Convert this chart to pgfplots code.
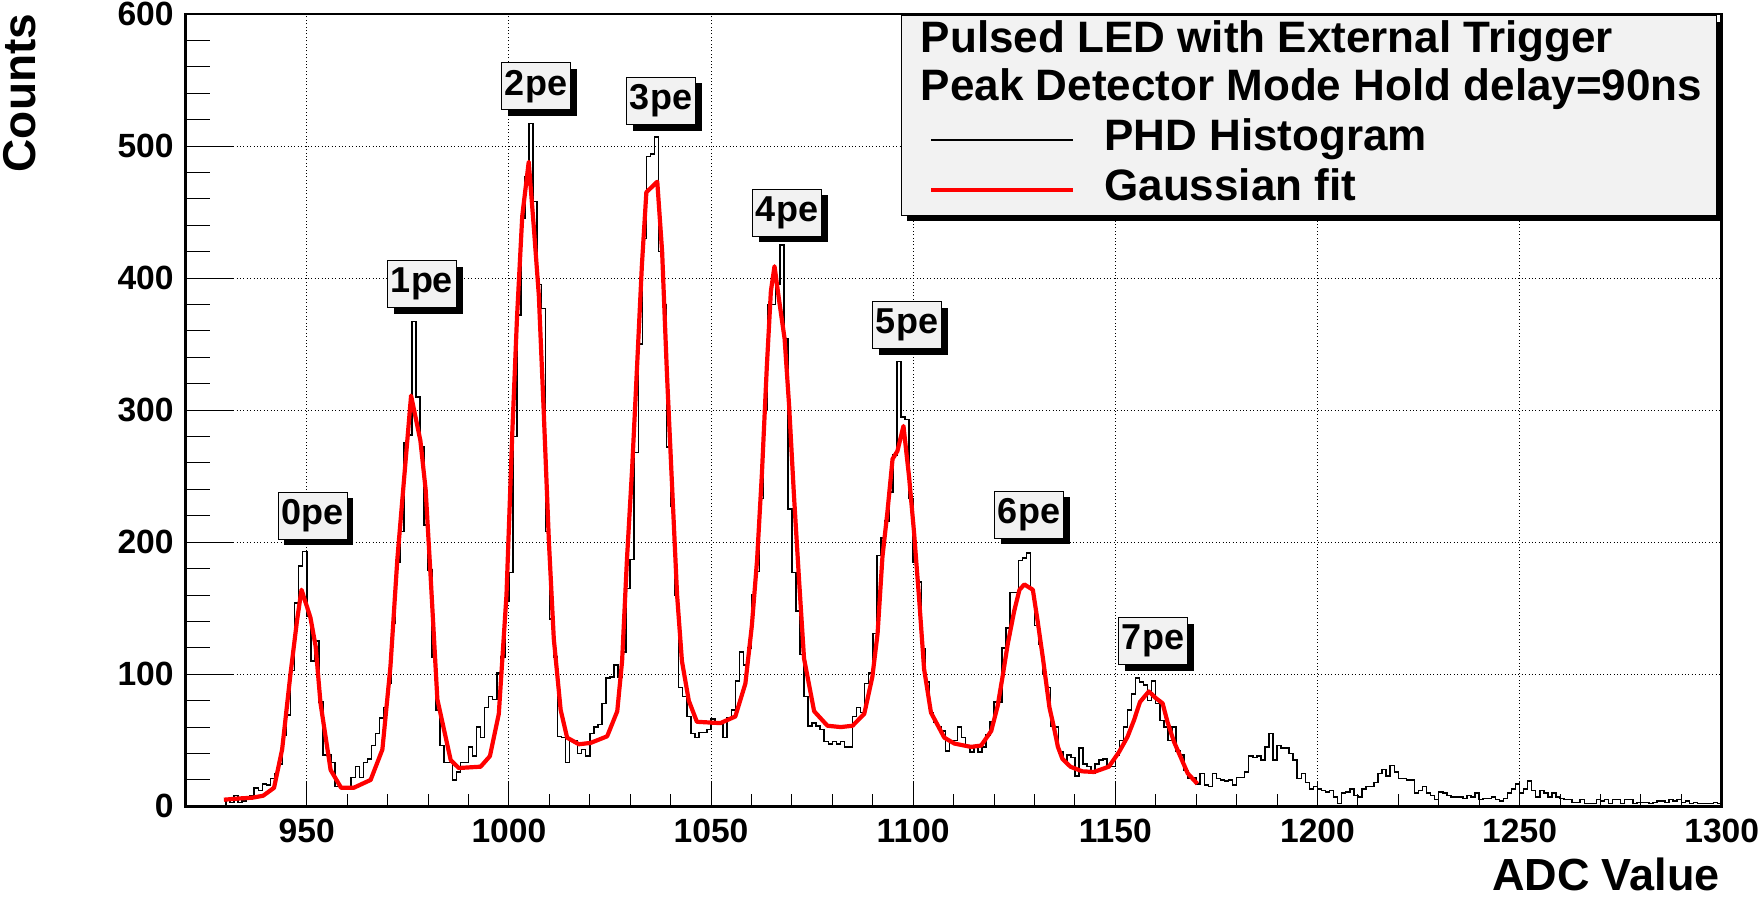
\documentclass[border=0pt]{standalone}
\usepackage{fontspec}
\setmainfont{Liberation Sans}
\usepackage{pgfplots}
\pgfplotsset{compat=1.18}
\usepackage{pgfplotstable}
\definecolor{boxgray}{RGB}{242,242,242}

\pgfplotstableread{
x y
929 0
930 5
931 3
932 8
933 3
934 4
935 5
936 8
937 14
938 12
939 17
940 16
941 21
942 25
943 32
944 54
945 69
946 103
947 154
948 182
949 193
950 144
951 110
952 125
953 79
954 39
955 39
956 33
957 15
958 15
959 14
960 14
961 22
962 30
963 22
964 33
965 36
966 46
967 55
968 67
969 75
970 93
971 139
972 185
973 208
974 275
975 281
976 367
977 310
978 272
979 213
980 179
981 113
982 73
983 46
984 33
985 33
986 20
987 26
988 33
989 33
990 45
991 38
992 60
993 52
994 75
995 83
996 81
997 101
998 113
999 155
1000 177
1001 280
1002 372
1003 445
1004 477
1005 517
1006 458
1007 395
1008 377
1009 208
1010 142
1011 113
1012 53
1013 52
1014 33
1015 50
1016 50
1017 40
1018 43
1019 38
1020 55
1021 60
1022 62
1023 78
1024 97
1025 98
1026 107
1027 98
1028 117
1029 165
1030 187
1031 268
1032 350
1033 430
1034 492
1035 494
1036 507
1037 420
1038 380
1039 272
1040 227
1041 160
1042 90
1043 83
1044 68
1045 55
1046 52
1047 56
1048 56
1049 58
1050 66
1051 63
1052 63
1053 52
1054 67
1055 73
1056 95
1057 117
1058 107
1059 120
1060 160
1061 178
1062 233
1063 300
1064 380
1065 380
1066 395
1067 425
1068 354
1069 225
1070 177
1071 148
1072 115
1073 83
1074 61
1075 63
1076 61
1077 58
1078 49
1079 47
1080 49
1081 47
1082 49
1083 45
1084 45
1085 68
1086 75
1087 71
1088 93
1089 101
1090 131
1091 190
1092 203
1093 216
1094 238
1095 266
1096 337
1097 295
1098 293
1099 233
1100 185
1101 170
1102 119
1103 94
1104 71
1105 64
1106 60
1107 57
1108 42
1109 50
1110 50
1111 60
1112 52
1113 45
1114 41
1115 45
1116 41
1117 45
1118 54
1119 64
1120 79
1121 79
1122 120
1123 135
1124 162
1125 162
1126 186
1127 188
1128 192
1129 164
1130 137
1131 123
1132 100
1133 90
1134 61
1135 60
1136 41
1137 35
1138 39
1139 37
1140 23
1141 44
1142 32
1143 30
1144 25
1145 32
1146 35
1147 36
1148 30
1149 30
1150 39
1151 50
1152 60
1153 73
1154 85
1155 97
1156 94
1157 92
1158 80
1159 95
1160 78
1161 65
1162 60
1163 50
1164 60
1165 42
1166 39
1167 27
1168 21
1169 22
1170 17
1171 25
1172 16
1173 15
1174 25
1175 21
1176 20
1177 19
1178 20
1179 16
1180 22
1181 22
1182 26
1183 38
1184 37
1185 38
1186 35
1187 45
1188 55
1189 35
1190 46
1191 44
1192 44
1193 40
1194 35
1195 21
1196 25
1197 18
1198 13
1199 15
1200 13
1201 12
1202 11
1203 12
1204 7
1205 2
1206 10
1207 11
1208 13
1209 8
1210 7
1211 13
1212 15
1213 15
1214 18
1215 25
1216 28
1217 23
1218 31
1219 26
1220 21
1221 21
1222 20
1223 20
1224 10
1225 12
1226 15
1227 10
1228 8
1229 5
1230 11
1231 10
1232 8
1233 7
1234 7
1235 7
1236 6
1237 8
1238 7
1239 10
1240 5
1241 6
1242 6
1243 7
1244 5
1245 4
1246 6
1247 10
1248 13
1249 17
1250 10
1251 13
1252 19
1253 12
1254 7
1255 12
1256 10
1257 7
1258 10
1259 7
1260 6
1261 5
1262 5
1263 3
1264 3
1265 5
1266 2
1267 2
1268 2
1269 5
1270 4
1271 5
1272 2
1273 5
1274 5
1275 2
1276 5
1277 5
1278 2
1279 3
1280 3
1281 3
1282 2
1283 3
1284 4
1285 4
1286 3
1287 5
1288 4
1289 5
1290 3
1291 4
1292 2
1293 3
1294 2
1295 2
1296 2
1297 2
1298 3
1299 2
1300 2
}\histdata

\pgfplotstableread{
x y
929.5 5
933.6 6
936.5 6.5
939.2 8
941.9 14
943.9 43
946 101
947.6 141
948.7 164
950.9 143
952.2 121
953.4 78
955.9 27.5
958.5 14
961.6 14
965.8 20
968.7 43
970.7 106
972.4 187
974.4 260
975.8 311
978.1 277
979.4 240
980.6 176
982.3 81
985.6 35
987.6 29
993 30
995.3 38
997.5 70
999.4 160
1000.8 280
1002 370
1003.3 447
1004.9 488
1006.2 437
1007.4 387
1008.6 300
1009.9 200
1011.1 127
1012.8 73
1014.4 52
1017.3 47
1020.2 48
1024.3 53
1026.8 72
1028 110
1029.2 187
1030.5 257
1031.7 333
1032.9 410
1034 465
1036.7 473
1037.9 420
1039.1 327
1040.4 240
1041.6 160
1042.8 110
1044.5 80
1046.5 64
1052.3 63
1056 68
1058.5 93
1060.1 137
1061.4 187
1062.6 253
1063.8 333
1064.8 390
1065.7 409
1066.8 384
1068.2 354
1069.3 304
1070.5 236
1071.8 170
1073 112
1075.5 72
1078.8 61
1082.1 60
1085 61
1087.9 70
1089.9 98
1091.2 131
1092.4 189
1093.6 222
1094.9 263
1096.1 269
1097.6 288
1099 249
1100.2 208
1101.5 156
1102.7 104
1104.4 71
1107.7 52
1110.2 47.5
1114.3 45
1116.8 46
1119.3 57
1120.9 76
1122.1 98
1123.4 123
1125 148
1126.3 164
1127.5 168
1129.6 164
1130.8 140
1132.1 112
1133.7 75
1134.8 60
1135.8 45
1136.9 36
1138.9 30
1141.8 26.5
1144.7 26
1148.4 30
1150.9 41
1153 52.5
1154.6 65
1156.1 79
1158.3 87
1160 82
1161.7 78
1162.9 64
1164.5 49
1166.2 37
1167.9 25
1170.3 17
}\fitdata

\begin{document}
\begin{tikzpicture}
\begin{axis}[
  at={(0,0)}, anchor=south west,
  scale only axis, width=768.1pt, height=396.15pt,
  xmin=920, xmax=1300, ymin=0, ymax=600,
  xtick={950,1000,...,1300}, ytick={0,100,...,600},
  minor x tick num=4, minor y tick num=4,
  tick align=inside, xtick pos=bottom, ytick pos=left,
  grid=major,
  major grid style={black, line width=0.45pt, dash pattern=on 0.5pt off 1.2pt},
  axis line style={line width=1.4pt},
  tick style={black, line width=0.5pt},
  xtick style={/pgfplots/major tick length=12.5pt, /pgfplots/minor tick length=6pt},
  ytick style={/pgfplots/major tick length=23.5pt, /pgfplots/minor tick length=12pt},
  ticklabel style={font=\bfseries\fontsize{16.8}{16.8}\selectfont},
  /pgf/number format/assume math mode=true,
  /pgf/number format/1000 sep={},
  xticklabel style={inner sep=0pt, yshift=-6pt},
  yticklabel style={inner sep=0pt, xshift=-5.75pt},
]
\addplot[const plot, black, line width=0.75pt] table[x=x, y=y] {\histdata};
\addplot[red, line width=2.1pt, line join=round] table[x=x, y=y] {\fitdata};
\end{axis}
\begin{scope}[x=0.5pt, y=-0.5pt, shift={(-92.75pt,403.15pt)}]
  % axis titles
  \node[anchor=base east, inner sep=0pt, font=\bfseries\fontsize{22.5}{22.5}\selectfont] at (1720,890.5) {ADC Value};
  \node[rotate=90, anchor=base east, inner sep=0pt, font=\bfseries\fontsize{23}{23}\selectfont] at (36,13.5) {Counts};
  % peak labels
  \foreach \cx/\cy/\t in {312.8/515.7/0pe, 422/284/1pe, 536/86.4/2pe, 661/101/3pe, 787/212.6/4pe, 907/325/5pe, 1029/514.5/6pe, 1153/641/7pe}{
    \fill[black] ({\cx-28.5},{\cy-17.5}) rectangle ({\cx+40.5},{\cy+29.5});
    \filldraw[fill=boxgray, draw=black, line width=0.5pt] ({\cx-34.5},{\cy-23.5}) rectangle ({\cx+34.5},{\cy+23.5});
    \node[anchor=base, inner sep=0pt, font=\bfseries\fontsize{18}{18}\selectfont] at (\cx,{\cy+8.8}) {\t};
  }
  % legend
  \fill[black] (907.3,22) rectangle (1721.5,221);
  \filldraw[fill=boxgray, draw=black, line width=0.5pt] (901.3,16) rectangle (1716,215);
  \node[anchor=base west, inner sep=0pt, font=\bfseries\fontsize{22}{22}\selectfont] at (920.5,52.3) {Pulsed LED with External Trigger};
  \node[anchor=base west, inner sep=0pt, font=\bfseries\fontsize{22}{22}\selectfont] at (920.5,100.7) {Peak Detector Mode Hold delay=90ns};
  \draw[black, line width=1pt] (931,140) -- (1072.7,140);
  \node[anchor=base west, inner sep=0pt, font=\bfseries\fontsize{22}{22}\selectfont] at (1104,150.7) {PHD Histogram};
  \draw[red, line width=2pt] (931,190) -- (1072.7,190);
  \node[anchor=base west, inner sep=0pt, font=\bfseries\fontsize{22}{22}\selectfont] at (1104,200) {Gaussian fit};
\end{scope}
\pgfresetboundingbox
\path[use as bounding box] (-92.75pt,-44.85pt) rectangle (787.25pt,403.15pt);
\end{tikzpicture}
\end{document}
